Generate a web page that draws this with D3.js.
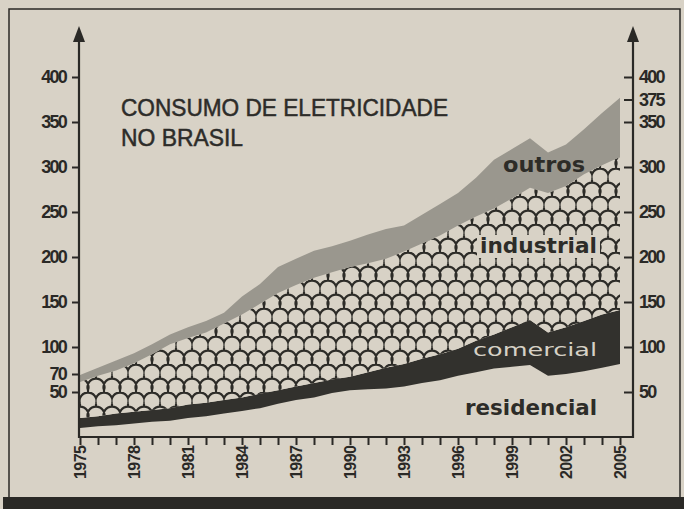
<!DOCTYPE html>
<html>
<head>
<meta charset="utf-8">
<script src="https://cdn.jsdelivr.net/npm/d3@7"></script>
<style>
  body { margin: 0; background: #d8d2c6; }
  svg { display: block; }
  .tick text { font-family: "Liberation Sans Narrow", "Liberation Sans", Arial, sans-serif; fill: #2a2926; }
</style>
</head>
<body>
<svg width="684" height="509"></svg>
<script>
const years = [1975,1976,1977,1978,1979,1980,1981,1982,1983,1984,1985,1986,1987,1988,1989,1990,
               1991,1992,1993,1994,1995,1996,1997,1998,1999,2000,2001,2002,2003,2004,2005];
const residencial = [10,12,13,15,17,18,21,23,26,29,32,37,41,44,49,52,53,54,56,60,63,68,72,76,78,80,68,70,73,77,81];
const comercial   = [11,11,13,13,13,14,15,15,15,15,16,15,15,16,15,15,19,23,25,27,29,30,35,38,44,50,48,52,56,59,60];
const industrial  = [40,45,48,54,62,71,74,78,85,92,100,108,113,117,119,122,121,121,125,128,132,137,138,140,143,147,155,157,163,166,170];
const outros      = [8,9,11,11,11,11,12,13,12,20,22,29,29,30,29,29,32,33,29,32,35,36,43,54,55,55,45,46,50,58,66];

const leftTicks  = [50, 70, 100, 150, 200, 250, 300, 350, 400];
const rightTicks = [50, 100, 150, 200, 250, 300, 350, 375, 400];
const yearLabels = [1975, 1978, 1981, 1984, 1987, 1990, 1993, 1996, 1999, 2002, 2005];

const paper = "#d8d2c6", ink = "#2a2926";

const svg = d3.select("svg");

const x = d3.scaleLinear().domain([1975, 2005]).range([80, 620]);
const y = d3.scaleLinear().domain([0, 400]).range([437, 77]);

// fish scale pattern for the industrial layer
const defs = svg.append("defs");
const pat = defs.append("pattern")
  .attr("id", "scales")
  .attr("patternUnits", "userSpaceOnUse")
  .attr("width", 16).attr("height", 28)
  .attr("x", 80).attr("y", 0);
pat.append("rect").attr("width", 16).attr("height", 28).attr("fill", paper);
pat.append("path")
  .attr("d", "M0,11.9 A8.5,8.5 0 1,1 16,11.9 M0,11.9 L0,14.5 M16,11.9 L16,14.5" +
             " M-8,25.9 A8.5,8.5 0 1,1 8,25.9 M8,25.9 A8.5,8.5 0 1,1 24,25.9" +
             " M8,25.9 L8,29 M8,-2.1 L8,0.5")
  .attr("fill", "none")
  .attr("stroke", "#2d2c28")
  .attr("stroke-width", 2.2);

// frame
svg.append("rect")
  .attr("x", 9).attr("y", 9).attr("width", 671).attr("height", 489)
  .attr("fill", "none").attr("stroke", ink).attr("stroke-width", 1.5);
svg.append("rect")
  .attr("x", 3).attr("y", 497).attr("width", 681).attr("height", 12)
  .attr("fill", "#2a2926");

// stacked areas
const table = years.map((yr, i) => ({
  year: yr,
  residencial: residencial[i],
  comercial: comercial[i],
  industrial: industrial[i],
  outros: outros[i]
}));
const keys = ["residencial", "comercial", "industrial", "outros"];
const fills = { residencial: "none", comercial: "#32312d", industrial: "url(#scales)", outros: "#9a978e" };

const series = d3.stack().keys(keys)(table);
const area = d3.area()
  .x(d => x(d.data.year))
  .y0(d => y(d[0]))
  .y1(d => y(d[1]));

svg.append("g").selectAll("path")
  .data(series)
  .join("path")
  .attr("d", area)
  .attr("fill", d => fills[d.key]);

// title
const title = svg.append("g")
  .attr("font-family", "'Liberation Sans', Arial, sans-serif")
  .attr("font-size", 24)
  .attr("fill", "#2d2c29")
  .attr("stroke", "#2d2c29")
  .attr("stroke-width", 0.5);
title.append("text").attr("x", 121).attr("y", 116)
  .attr("textLength", 327).attr("lengthAdjust", "spacingAndGlyphs")
  .text("CONSUMO DE ELETRICIDADE");
title.append("text").attr("x", 121).attr("y", 146)
  .attr("textLength", 122).attr("lengthAdjust", "spacingAndGlyphs")
  .text("NO BRASIL");

// layer labels
const labels = [
  { text: "outros", x: 503, y: 172, len: 82, bold: true, size: 21, fill: "#2d2c28", knock: false },
  { text: "industrial", x: 480, y: 253, len: 117, bold: true, size: 21, fill: "#2d2c28", knock: true },
  { text: "comercial", x: 473, y: 356, len: 124, bold: false, size: 18, fill: "#d6d1c6", knock: false },
  { text: "residencial", x: 465, y: 415, len: 132, bold: true, size: 21, fill: "#2d2c28", knock: false }
];
const labelG = svg.append("g");
labelG.selectAll("rect")
  .data(labels.filter(d => d.knock))
  .join("rect")
  .attr("x", d => d.x - 3).attr("y", d => d.y - 18)
  .attr("width", d => d.len + 6).attr("height", 23)
  .attr("fill", paper);
labelG.selectAll("text")
  .data(labels)
  .join("text")
  .attr("x", d => d.x).attr("y", d => d.y)
  .attr("font-family", "'DejaVu Sans', Verdana, sans-serif")
  .attr("font-weight", d => d.bold ? "bold" : "normal")
  .attr("font-size", d => d.size)
  .attr("fill", d => d.fill)
  .attr("textLength", d => d.len)
  .attr("lengthAdjust", "spacingAndGlyphs")
  .text(d => d.text);

// axes
const leftAxis = svg.append("g")
  .attr("transform", "translate(79,0)")
  .call(d3.axisLeft(y).tickValues(leftTicks).tickSizeInner(7).tickSizeOuter(0).tickPadding(6));
const rightAxis = svg.append("g")
  .attr("transform", "translate(633,0)")
  .call(d3.axisRight(y).tickValues(rightTicks).tickSizeInner(-9).tickSizeOuter(0).tickPadding(6));
const bottomAxis = svg.append("g")
  .attr("transform", "translate(0,437)")
  .call(d3.axisBottom(x).tickValues(years).tickSizeInner(8).tickSizeOuter(0).tickFormat(""));

[leftAxis, rightAxis, bottomAxis].forEach(g => {
  g.select(".domain").remove();
  g.selectAll(".tick line").attr("stroke", ink).attr("stroke-width", 2);
});
[leftAxis, rightAxis].forEach(g => {
  g.selectAll(".tick text")
    .attr("font-size", 18)
    .attr("font-weight", "bold")
    .attr("letter-spacing", -1.8);
});

// axis lines with arrows
const axisLines = [
  { x1: 79, y1: 438, x2: 79, y2: 36 },
  { x1: 633, y1: 438, x2: 633, y2: 36 },
  { x1: 78, y1: 437, x2: 634, y2: 437 }
];
svg.append("g").selectAll("line")
  .data(axisLines)
  .join("line")
  .attr("x1", d => d.x1).attr("y1", d => d.y1)
  .attr("x2", d => d.x2).attr("y2", d => d.y2)
  .attr("stroke", ink).attr("stroke-width", 2.2);

svg.append("g").selectAll("path")
  .data([79, 633])
  .join("path")
  .attr("d", d => `M${d},26 L${d - 6},42 L${d + 6},42 Z`)
  .attr("fill", ink);

// year labels, rotated
svg.append("g").selectAll("text")
  .data(yearLabels)
  .join("text")
  .attr("transform", d => `translate(${x(d) + 6},445) rotate(-90)`)
  .attr("text-anchor", "end")
  .attr("font-family", "'Liberation Sans', Arial, sans-serif")
  .attr("font-weight", "bold")
  .attr("font-size", 16)
  .attr("fill", ink)
  .attr("textLength", 34)
  .attr("lengthAdjust", "spacing")
  .text(d => d);
</script>
</body>
</html>
